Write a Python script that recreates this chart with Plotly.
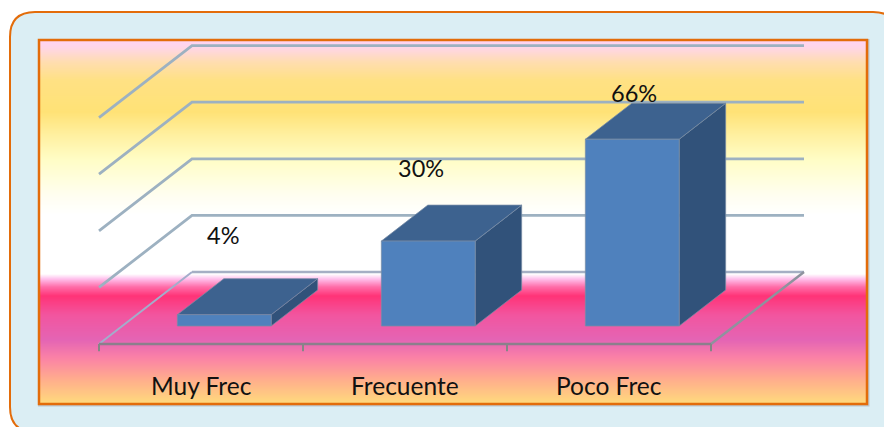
import numpy as np
import plotly.graph_objects as go

# Chart data
categories = ['Muy Frec', 'Frecuente', 'Poco Frec']
values = [4, 30, 66]
value_labels = ['4%', '30%', '66%']
grid_values = [0, 20, 40, 60, 80]

WIDTH = 884
HEIGHT = 427

# Scale of the axes: 204 px per category, 2.83 px per percent
PX_PER_CAT = 204
PX_PER_PCT = 2.83
ORIGIN_X = 99
ORIGIN_Y = 344

# Oblique depth of the fake 3D floor, in axis units
DEPTH_U = 93 / PX_PER_CAT
DEPTH_V = 72 / PX_PER_PCT
BAR_WIDTH = 0.46
BAR_DEPTH = (0.25, 0.75)

FONT = 'Lato'

# Background gradient of the plot box, pixel row -> colour
gradient = [
    (40, '#FFD3F6'), (48, '#FFD6E6'), (62, '#FFDDB0'), (80, '#FFE184'), (112, '#FFE276'),
    (135, '#FFF0A0'), (160, '#FFFDC6'), (195, '#FFFEF0'), (215, '#FFFFFF'), (274, '#FFFFFF'),
    (279, '#FFC0EC'), (287, '#FF6CA8'), (296, '#FF3377'), (315, '#F2559F'), (340, '#E464B4'),
    (358, '#FB82A6'), (380, '#FFAE8C'), (404, '#FFDB7C'),
]


def to_u(px):
    return (px - ORIGIN_X) / PX_PER_CAT


def to_v(py):
    return (ORIGIN_Y - py) / PX_PER_PCT


def project(u, depth, v):
    """Oblique projection of a point on the chart axes."""
    return u + depth * DEPTH_U, v + depth * DEPTH_V


def face(points, color):
    xs, ys = zip(*points)
    return go.Scatter(
        x=list(xs) + [xs[0]], y=list(ys) + [ys[0]], mode='lines', fill='toself',
        fillcolor=color, line=dict(color='rgba(120,140,165,0.75)', width=1),
        hoverinfo='skip', showlegend=False
    )


def line(points, color, width=2.8):
    xs, ys = zip(*points)
    return go.Scatter(
        x=xs, y=ys, mode='lines', line=dict(color=color, width=width),
        hoverinfo='skip', showlegend=False
    )


fig = go.Figure()

# Gradient behind the plot, drawn as a one column heatmap
rows = np.arange(40, 405)
stops = [[(p - 40) / 364, c] for p, c in gradient]
fig.add_trace(go.Heatmap(
    x=[to_u(39), to_u(867)],
    y=to_v(rows),
    z=(rows[:-1] + 0.5 - 40).reshape(-1, 1) / 364,
    zmin=0, zmax=1,
    colorscale=stops, showscale=False, hoverinfo='skip'
))

# Walls and floor
wall_color = '#9DB1C1'
for g in grid_values[1:]:
    fig.add_trace(line([project(0, 0, g), project(0, 1, g), project(3, 1, g)], wall_color))
fig.add_trace(line([project(0, 0, 0), project(0, 1, 0)], '#A3ADCB', 2))
fig.add_trace(line([project(0, 1, 0), project(3, 1, 0)], '#A5AFC4', 2.5))
fig.add_trace(line([project(3, 0, 0), project(3, 1, 0)], '#8E939E', 2.5))
fig.add_trace(line([project(0, 0, 0), project(3, 0, 0)], '#8B7F8C', 2.5))
for i in range(len(categories) + 1):
    fig.add_trace(line([(i, 0), (i, -2.6)], '#868686', 2))

# Bars: front, top and side faces
for i, val in enumerate(values):
    left = i + 0.5 - BAR_WIDTH / 2
    right = i + 0.5 + BAR_WIDTH / 2
    d0, d1 = BAR_DEPTH
    fig.add_trace(face([project(right, d0, 0), project(right, d1, 0),
                        project(right, d1, val), project(right, d0, val)], '#31527A'))
    fig.add_trace(face([project(left, d0, val), project(left, d1, val),
                        project(right, d1, val), project(right, d0, val)], '#3D628F'))
    fig.add_trace(face([project(left, d0, 0), project(right, d0, 0),
                        project(right, d0, val), project(left, d0, val)], '#4F81BD'))

# Value labels, moved by hand from the end of each bar like in the original
label_shift = [(-95, 44), (-101, 37), (-92, 10)]
for i, (val, text) in enumerate(zip(values, value_labels)):
    x, y = project(i + 0.5 + BAR_WIDTH / 2, BAR_DEPTH[1], val)
    fig.add_annotation(x=x, y=y, text=text, showarrow=False, xshift=label_shift[i][0],
                       yshift=label_shift[i][1], font=dict(family=FONT, size=23.5, color='#111111'))

# Category labels
for i, cat in enumerate(categories):
    fig.add_annotation(x=i + 0.5, y=to_v(385), text=cat, showarrow=False,
                       font=dict(family=FONT, size=24.5, color='#111111'))

fig.update_layout(
    width=WIDTH,
    height=HEIGHT,
    margin=dict(t=0, b=0, l=0, r=0),
    paper_bgcolor='white',
    plot_bgcolor='rgba(0,0,0,0)',
    showlegend=False,
    xaxis=dict(visible=False, range=[to_u(0), to_u(WIDTH)], fixedrange=True),
    yaxis=dict(visible=False, range=[to_v(HEIGHT), to_v(0)], fixedrange=True),
    shapes=[
        # Rounded outer panel, runs off the right and bottom edges
        dict(type='path', xref='paper', yref='paper', layer='below',
             path=' '.join([
                 f'M {10 / WIDTH} {1 - 37 / HEIGHT}',
                 f'Q {10 / WIDTH} {1 - 12 / HEIGHT} {35 / WIDTH} {1 - 12 / HEIGHT}',
                 f'L {873 / WIDTH} {1 - 12 / HEIGHT}',
                 f'Q {898 / WIDTH} {1 - 12 / HEIGHT} {898 / WIDTH} {1 - 37 / HEIGHT}',
                 f'L {898 / WIDTH} {1 - 407 / HEIGHT}',
                 f'Q {898 / WIDTH} {1 - 432 / HEIGHT} {873 / WIDTH} {1 - 432 / HEIGHT}',
                 f'L {35 / WIDTH} {1 - 432 / HEIGHT}',
                 f'Q {10 / WIDTH} {1 - 432 / HEIGHT} {10 / WIDTH} {1 - 407 / HEIGHT}',
                 'Z'
             ]),
             fillcolor='#DBEEF4', line=dict(color='#E36C0A', width=2)),
        # Soft shadow and orange border of the plot box
        dict(type='rect', xref='paper', yref='paper', layer='below',
             x0=39 / WIDTH, x1=868.5 / WIDTH, y0=1 - 405.5 / HEIGHT, y1=1 - 40 / HEIGHT,
             fillcolor='rgba(0,0,0,0)', line=dict(color='#BCC8D0', width=2)),
        dict(type='rect', xref='paper', yref='paper', layer='above',
             x0=39 / WIDTH, x1=867 / WIDTH, y0=1 - 404 / HEIGHT, y1=1 - 40 / HEIGHT,
             fillcolor='rgba(0,0,0,0)', line=dict(color='#E36C0A', width=2.5)),
    ]
)

fig.write_html("out.html", config=dict(displayModeBar=False),
               post_script="document.body.style.margin='0';document.body.style.overflow='hidden';")
